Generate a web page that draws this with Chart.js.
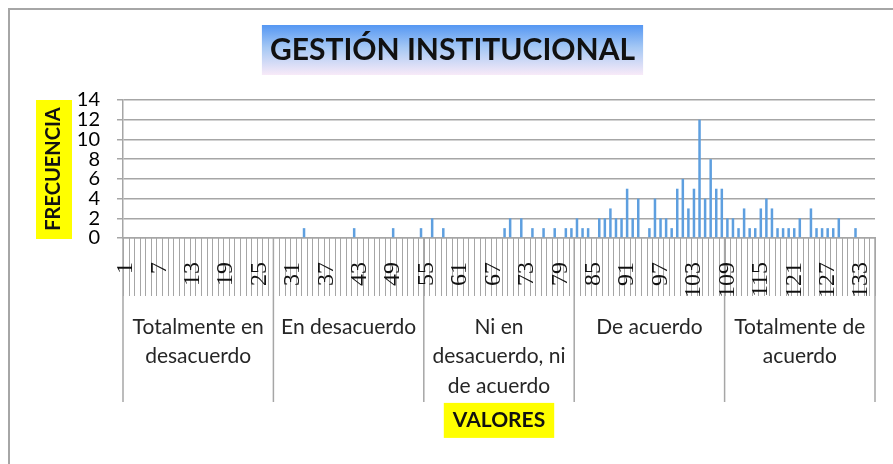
<!DOCTYPE html>
<html>
<head>
<meta charset="utf-8">
<script src="https://cdn.jsdelivr.net/npm/chart.js@4.4.1/dist/chart.umd.min.js"></script>
<style>
html,body{margin:0;padding:0;background:#fff;}
#wrap{width:893px;height:464px;position:relative;}
</style>
</head>
<body>
<div id="wrap"><canvas id="c" width="893" height="464"></canvas></div>
<script>
const chartTitle = 'GESTIÓN INSTITUCIONAL';
const yTitle = 'FRECUENCIA';
const xTitle = 'VALORES';

const categories = Array.from({length: 135}, (_, i) => String(i + 1));
const tickLabels = ['1','7','13','19','25','31','37','43','49','55','61','67','73','79','85','91','97','103','109','115','121','127','133'];
const yTicks = [0, 2, 4, 6, 8, 10, 12, 14];

const frequencies = [
  0,0,0,0,0,0,0,0,0,0,0,0,0,0,0,0,0,0,0,0,0,0,0,0,0,0,0,
  0,0,0,0,0,1,0,0,0,0,0,0,0,0,1,0,0,0,0,0,0,1,0,0,0,0,1,
  0,2,0,1,0,0,0,0,0,0,0,0,0,0,1,2,0,2,0,1,0,1,0,1,0,1,1,
  2,1,1,0,2,2,3,2,2,5,2,4,0,1,4,2,2,1,5,6,3,5,12,4,8,5,5,
  2,2,1,3,1,1,3,4,3,1,1,1,1,2,0,3,1,1,1,1,2,0,0,1,0,0,0
];

const groupNames = [
  ['Totalmente en', 'desacuerdo'],
  ['En desacuerdo'],
  ['Ni en', 'desacuerdo, ni', 'de acuerdo'],
  ['De acuerdo'],
  ['Totalmente de', 'acuerdo']
];
const groupSizes = [27, 27, 27, 27, 27];

const LINE = '#a6a6a6';

const decor = {
  id: 'decor',
  beforeDraw(chart) {
    const {ctx, chartArea, scales} = chart;
    const xs = scales.x, ys = scales.y;
    ctx.save();
    ctx.fillStyle = '#fff';
    ctx.fillRect(0, 0, chart.width, chart.height);

    // outer frame
    ctx.strokeStyle = LINE;
    ctx.lineWidth = 2;
    ctx.strokeRect(9, 9, chart.width + 20, chart.height + 20);

    // title gradient box
    const tb = chart.titleBlock;
    const tOpt = chart.options.plugins.title;
    ctx.font = 'bold 30px Lato';
    const tw = ctx.measureText(chartTitle).width;
    const tcx = (tb.left + tb.right) / 2;
    const tcy = tb.top + tOpt.padding.top + 18;
    const bw = tw + 16, bh = 50;
    const g = ctx.createLinearGradient(0, tcy - bh / 2, 0, tcy + bh / 2);
    g.addColorStop(0, '#5597f3');
    g.addColorStop(0.45, '#a5c8f4');
    g.addColorStop(1, '#f8eaf8');
    ctx.fillStyle = g;
    ctx.fillRect(tcx - bw / 2, tcy - bh / 2, bw, bh);

    // y title yellow box
    const ycx = ys.left + 12 + 12;
    ctx.fillStyle = '#ffff00';
    ctx.fillRect(ycx - 18, chartArea.top, 36, chartArea.bottom - chartArea.top + 1);

    // x title yellow box
    ctx.font = 'bold 21px Lato';
    const xw = ctx.measureText(xTitle).width + 18;
    const xcx = (chartArea.left + chartArea.right) / 2;
    const xcy = xs.bottom - 31 - 12.6;
    ctx.fillRect(xcx - xw / 2, xcy - 17.5, xw, 35);

    // category boundary lines
    const half = (xs.getPixelForValue(1) - xs.getPixelForValue(0)) / 2;
    const bnd = k => xs.getPixelForValue(k) - half;
    const base = chartArea.bottom;
    ctx.strokeStyle = LINE;
    ctx.lineWidth = 1;
    for (let k = 0; k <= categories.length; k++) {
      const x = Math.round(bnd(k)) + 0.5;
      ctx.beginPath();
      ctx.moveTo(x, base);
      ctx.lineTo(x, base + 58);
      ctx.stroke();
    }

    // group lines and labels
    ctx.lineWidth = 1.5;
    let start = 0;
    const edges = [0];
    groupSizes.forEach(s => { start += s; edges.push(start); });
    edges.forEach(k => {
      const x = bnd(k);
      ctx.beginPath();
      ctx.moveTo(x, base);
      ctx.lineTo(x, base + 164);
      ctx.stroke();
    });
    ctx.fillStyle = '#262626';
    ctx.font = '21px Lato';
    ctx.textAlign = 'center';
    ctx.textBaseline = 'middle';
    groupNames.forEach((lines, gi) => {
      const cx = (bnd(edges[gi]) + bnd(edges[gi + 1])) / 2;
      lines.forEach((t, li) => {
        ctx.fillText(t, cx, base + 89 + li * 29.5);
      });
    });
    ctx.restore();
  }
};

new Chart(document.getElementById('c'), {
  type: 'bar',
  data: {
    labels: categories,
    datasets: [{
      label: 'Frecuencia',
      data: frequencies,
      backgroundColor: '#5e9fdf',
      borderWidth: 0,
      barPercentage: 0.45,
      categoryPercentage: 1.0
    }]
  },
  options: {
    responsive: false,
    animation: false,
    layout: { padding: { left: 30, right: 18, top: 0, bottom: 0 } },
    plugins: {
      legend: { display: false },
      tooltip: { enabled: false },
      title: {
        display: true,
        text: chartTitle,
        color: '#111',
        font: { family: 'Lato', size: 30, weight: 'bold', lineHeight: 1.2 },
        padding: { top: 32, bottom: 32 }
      }
    },
    scales: {
      x: {
        type: 'category',
        offset: true,
        grid: { display: false },
        border: { display: true, color: LINE, width: 1.5 },
        ticks: {
          autoSkip: false,
          maxRotation: 90,
          minRotation: 90,
          padding: 16,
          color: '#111',
          font: { family: 'Liberation Serif', size: 24 },
          callback: function(v) {
            const l = this.getLabelForValue(v);
            return tickLabels.includes(l) ? l : '';
          }
        },
        title: {
          display: true,
          text: xTitle,
          color: '#111',
          font: { family: 'Lato', size: 21, weight: 'bold', lineHeight: 1.2 },
          padding: { top: 0, bottom: 31 }
        },
        afterFit(s) { s.height = 226; s.paddingLeft = 0; s.paddingRight = 0; }
      },
      y: {
        min: 0,
        max: 14,
        afterBuildTicks(s) { s.ticks = yTicks.map(v => ({value: v})); },
        grid: { color: LINE, lineWidth: 1.5, tickLength: 6, drawTicks: true },
        border: { display: true, color: LINE, width: 1.5 },
        ticks: {
          autoSkip: false,
          stepSize: 2,
          padding: 17,
          color: '#000',
          font: { family: 'Lato', size: 20 }
        },
        title: {
          display: true,
          text: yTitle,
          color: '#111',
          font: { family: 'Lato', size: 20, weight: 'bold', lineHeight: 1.2 },
          padding: { top: 12, bottom: 0 }
        },
        afterFit(s) { s.width = 93; s.paddingTop = 0; s.paddingBottom = 0; }
      }
    }
  },
  plugins: [decor]
});
</script>
</body>
</html>
